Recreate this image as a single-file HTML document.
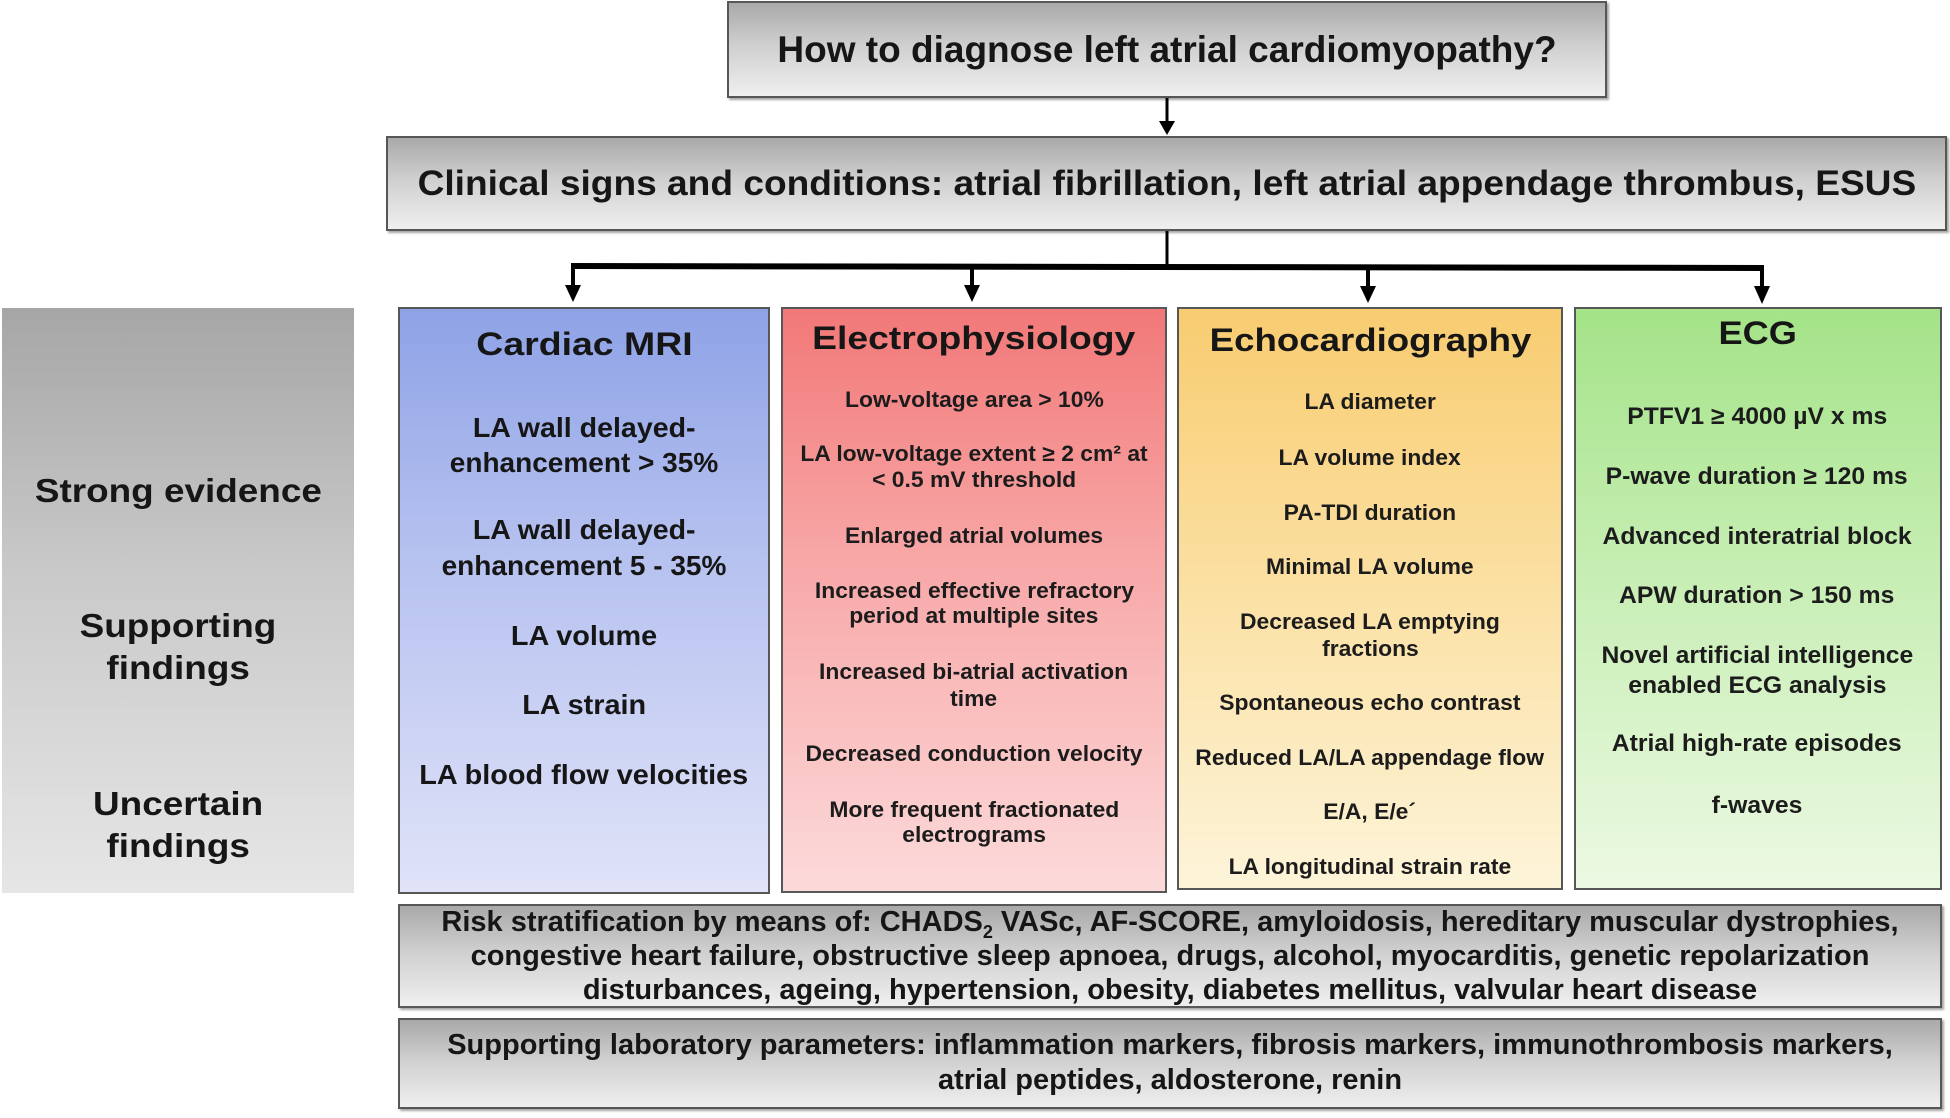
<!DOCTYPE html>
<html>
<head>
<meta charset="utf-8">
<style>
  html,body{margin:0;padding:0;background:#fff;}
  body{width:1950px;height:1118px;position:relative;overflow:hidden;
       font-family:"Liberation Sans",Arial,sans-serif;font-weight:bold;color:#161616;}
  .box{position:absolute;box-sizing:border-box;border:2px solid #575757;}
  .gray{background:linear-gradient(to bottom,#a9a9a9 0%,#cfcfcf 45%,#efefef 100%);
        box-shadow:2px 2px 2px rgba(0,0,0,0.35);}
  .t{position:absolute;text-align:center;white-space:nowrap;}
  .t span{display:inline-block;}
</style>
</head>
<body>

<!-- Left gray panel -->
<div style="position:absolute;left:2px;top:308px;width:352px;height:585px;background:linear-gradient(to bottom,#a6a6a6 0%,#c9c9c9 45%,#e6e6e6 100%);"></div>

<!-- Top boxes -->
<div class="box gray" style="left:727px;top:1px;width:880px;height:97px;"></div>
<div class="box gray" style="left:386px;top:136px;width:1561px;height:95px;"></div>

<!-- Colored column boxes -->
<div class="box" style="left:398px;top:307px;width:372px;height:587px;background:linear-gradient(to bottom,#8ea2e6 0%,#b4c0ef 40%,#e0e3f8 100%);"></div>
<div class="box" style="left:781px;top:307px;width:386px;height:586px;background:linear-gradient(to bottom,#f27878 0%,#f8a9a9 45%,#fcdada 100%);"></div>
<div class="box" style="left:1177px;top:307px;width:386px;height:583px;background:linear-gradient(to bottom,#f8cc70 0%,#fbdfa0 45%,#fdf4d9 100%);"></div>
<div class="box" style="left:1574px;top:307px;width:368px;height:583px;background:linear-gradient(to bottom,#a4e388 0%,#c6eeb3 45%,#ecf9e3 100%);"></div>

<!-- Bottom boxes -->
<div class="box gray" style="left:398px;top:904px;width:1544px;height:104px;"></div>
<div class="box gray" style="left:398px;top:1018px;width:1544px;height:91px;"></div>

<!-- Connectors -->
<svg width="1950" height="1118" style="position:absolute;left:0;top:0;">
  <line x1="1167" y1="98" x2="1167" y2="124" stroke="#000" stroke-width="3"/>
  <polygon points="1159,121 1175,121 1167,135" fill="#000"/>
  <line x1="1167" y1="231" x2="1167" y2="266" stroke="#000" stroke-width="3"/>
  <polygon points="571,263 1764,265 1764,271 571,269" fill="#000"/>
  <line x1="573" y1="266" x2="573" y2="288" stroke="#000" stroke-width="4"/>
  <polygon points="565,285 581,285 573,302" fill="#000"/>
  <line x1="972" y1="266" x2="972" y2="288" stroke="#000" stroke-width="4"/>
  <polygon points="964,285 980,285 972,302" fill="#000"/>
  <line x1="1368" y1="267" x2="1368" y2="289" stroke="#000" stroke-width="4"/>
  <polygon points="1360,286 1376,286 1368,303" fill="#000"/>
  <line x1="1762" y1="268" x2="1762" y2="289" stroke="#000" stroke-width="4"/>
  <polygon points="1754,286 1770,286 1762,304" fill="#000"/>
</svg>

<!-- Top text -->
<div class="t" style="left:727px;width:880px;top:30.7px;font-size:37px;line-height:37px;"><span>How to diagnose left atrial cardiomyopathy?</span></div>
<div class="t" style="left:386px;width:1561px;top:166.4px;font-size:35px;line-height:35px;"><span style="transform:scaleX(1.06)">Clinical signs and conditions: atrial fibrillation, left atrial appendage thrombus, ESUS</span></div>

<!-- Left labels -->
<div style="position:absolute;left:0;top:0;font-size:33px;line-height:33px;">
  <div class="t" style="left:2px;width:352px;top:474.1px;"><span style="transform:scaleX(1.118)">Strong evidence</span></div>
  <div class="t" style="left:2px;width:352px;top:609.1px;"><span style="transform:scaleX(1.118)">Supporting</span></div>
  <div class="t" style="left:2px;width:352px;top:651.1px;"><span style="transform:scaleX(1.118)">findings</span></div>
  <div class="t" style="left:2px;width:352px;top:787.1px;"><span style="transform:scaleX(1.118)">Uncertain</span></div>
  <div class="t" style="left:2px;width:352px;top:829.1px;"><span style="transform:scaleX(1.118)">findings</span></div>
</div>

<!-- Cardiac MRI -->
<div class="t" style="left:398px;width:372px;top:327.9px;font-size:32px;line-height:32px;"><span style="transform:scaleX(1.17)">Cardiac MRI</span></div>
<div style="position:absolute;left:0;top:0;font-size:28px;line-height:28px;">
  <div class="t" style="left:398px;width:372px;top:414px;"><span style="transform:scaleX(1.02)">LA wall delayed-</span></div>
  <div class="t" style="left:398px;width:372px;top:449.3px;"><span style="transform:scaleX(1.0)">enhancement &gt; 35%</span></div>
  <div class="t" style="left:398px;width:372px;top:516.3px;"><span style="transform:scaleX(1.02)">LA wall delayed-</span></div>
  <div class="t" style="left:398px;width:372px;top:552.3px;"><span style="transform:scaleX(1.0)">enhancement 5 - 35%</span></div>
  <div class="t" style="left:398px;width:372px;top:622.3px;"><span style="transform:scaleX(1.03)">LA volume</span></div>
  <div class="t" style="left:398px;width:372px;top:691.3px;"><span style="transform:scaleX(1.03)">LA strain</span></div>
  <div class="t" style="left:398px;width:372px;top:761.3px;"><span style="transform:scaleX(1.03)">LA blood flow velocities</span></div>
</div>

<!-- Electrophysiology -->
<div class="t" style="left:781px;width:386px;top:321.9px;font-size:32px;line-height:32px;"><span style="transform:scaleX(1.165)">Electrophysiology</span></div>
<div style="position:absolute;left:0;top:0;font-size:22px;line-height:22px;color:#1c1c1c;">
  <div class="t" style="left:781px;width:386px;top:389.4px;"><span style="transform:scaleX(1.04)">Low-voltage area &gt; 10%</span></div>
  <div class="t" style="left:781px;width:386px;top:443.4px;"><span style="transform:scaleX(1.04)">LA low-voltage extent ≥ 2 cm² at</span></div>
  <div class="t" style="left:781px;width:386px;top:469px;"><span style="transform:scaleX(1.04)">&lt; 0.5 mV threshold</span></div>
  <div class="t" style="left:781px;width:386px;top:525.4px;"><span style="transform:scaleX(1.04)">Enlarged atrial volumes</span></div>
  <div class="t" style="left:781px;width:386px;top:579.9px;"><span style="transform:scaleX(1.04)">Increased effective refractory</span></div>
  <div class="t" style="left:781px;width:386px;top:605.4px;"><span style="transform:scaleX(1.04)">period at multiple sites</span></div>
  <div class="t" style="left:781px;width:386px;top:661.4px;"><span style="transform:scaleX(1.04)">Increased bi-atrial activation</span></div>
  <div class="t" style="left:781px;width:386px;top:688px;"><span style="transform:scaleX(1.04)">time</span></div>
  <div class="t" style="left:781px;width:386px;top:743.4px;"><span style="transform:scaleX(1.04)">Decreased conduction velocity</span></div>
  <div class="t" style="left:781px;width:386px;top:798.9px;"><span style="transform:scaleX(1.04)">More frequent fractionated</span></div>
  <div class="t" style="left:781px;width:386px;top:824.4px;"><span style="transform:scaleX(1.04)">electrograms</span></div>
</div>

<!-- Echocardiography -->
<div class="t" style="left:1177px;width:386px;top:323.9px;font-size:32px;line-height:32px;"><span style="transform:scaleX(1.145)">Echocardiography</span></div>
<div style="position:absolute;left:0;top:0;font-size:22px;line-height:22px;color:#1c1c1c;">
  <div class="t" style="left:1177px;width:386px;top:391.4px;"><span style="transform:scaleX(1.04)">LA diameter</span></div>
  <div class="t" style="left:1177px;width:386px;top:447.4px;"><span style="transform:scaleX(1.04)">LA volume index</span></div>
  <div class="t" style="left:1177px;width:386px;top:502.1px;"><span style="transform:scaleX(1.04)">PA-TDI duration</span></div>
  <div class="t" style="left:1177px;width:386px;top:556.4px;"><span style="transform:scaleX(1.04)">Minimal LA volume</span></div>
  <div class="t" style="left:1177px;width:386px;top:611.4px;"><span style="transform:scaleX(1.04)">Decreased LA emptying</span></div>
  <div class="t" style="left:1177px;width:386px;top:638.4px;"><span style="transform:scaleX(1.04)">fractions</span></div>
  <div class="t" style="left:1177px;width:386px;top:692.4px;"><span style="transform:scaleX(1.04)">Spontaneous echo contrast</span></div>
  <div class="t" style="left:1177px;width:386px;top:747.4px;"><span style="transform:scaleX(1.04)">Reduced LA/LA appendage flow</span></div>
  <div class="t" style="left:1177px;width:386px;top:801.4px;"><span style="transform:scaleX(1.04)">E/A, E/e´</span></div>
  <div class="t" style="left:1177px;width:386px;top:856.4px;"><span style="transform:scaleX(1.04)">LA longitudinal strain rate</span></div>
</div>

<!-- ECG -->
<div class="t" style="left:1574px;width:368px;top:316.5px;font-size:32px;line-height:32px;"><span style="transform:scaleX(1.13)">ECG</span></div>
<div style="position:absolute;left:0;top:0;font-size:24px;line-height:24px;color:#1c1c1c;">
  <div class="t" style="left:1574px;width:366px;top:404.7px;"><span style="transform:scaleX(1.03)">PTFV1 ≥ 4000 µV x ms</span></div>
  <div class="t" style="left:1574px;width:366px;top:465.3px;"><span style="transform:scaleX(1.03)">P-wave duration ≥ 120 ms</span></div>
  <div class="t" style="left:1574px;width:366px;top:524.7px;"><span style="transform:scaleX(1.03)">Advanced interatrial block</span></div>
  <div class="t" style="left:1574px;width:366px;top:583.7px;"><span style="transform:scaleX(1.03)">APW duration &gt; 150 ms</span></div>
  <div class="t" style="left:1574px;width:366px;top:644.3px;"><span style="transform:scaleX(1.03)">Novel artificial intelligence</span></div>
  <div class="t" style="left:1574px;width:366px;top:673.7px;"><span style="transform:scaleX(1.03)">enabled ECG analysis</span></div>
  <div class="t" style="left:1574px;width:366px;top:731.7px;"><span style="transform:scaleX(1.03)">Atrial high-rate episodes</span></div>
  <div class="t" style="left:1574px;width:366px;top:794.2px;"><span style="transform:scaleX(1.03)">f-waves</span></div>
</div>

<!-- Bottom texts -->
<div style="position:absolute;left:0;top:0;font-size:29px;line-height:29px;">
  <div class="t" style="left:398px;width:1544px;top:907.5px;"><span>Risk stratification by means of: CHADS<sub style="font-size:18px;line-height:0;">2</sub> VASc, AF-SCORE, amyloidosis, hereditary muscular dystrophies,</span></div>
  <div class="t" style="left:398px;width:1544px;top:942px;"><span>congestive heart failure, obstructive sleep apnoea, drugs, alcohol, myocarditis, genetic repolarization</span></div>
  <div class="t" style="left:398px;width:1544px;top:975.5px;"><span>disturbances, ageing, hypertension, obesity, diabetes mellitus, valvular heart disease</span></div>
  <div class="t" style="left:398px;width:1544px;top:1031px;"><span>Supporting laboratory parameters: inflammation markers, fibrosis markers, immunothrombosis markers,</span></div>
  <div class="t" style="left:398px;width:1544px;top:1065.5px;"><span>atrial peptides, aldosterone, renin</span></div>
</div>

</body>
</html>
